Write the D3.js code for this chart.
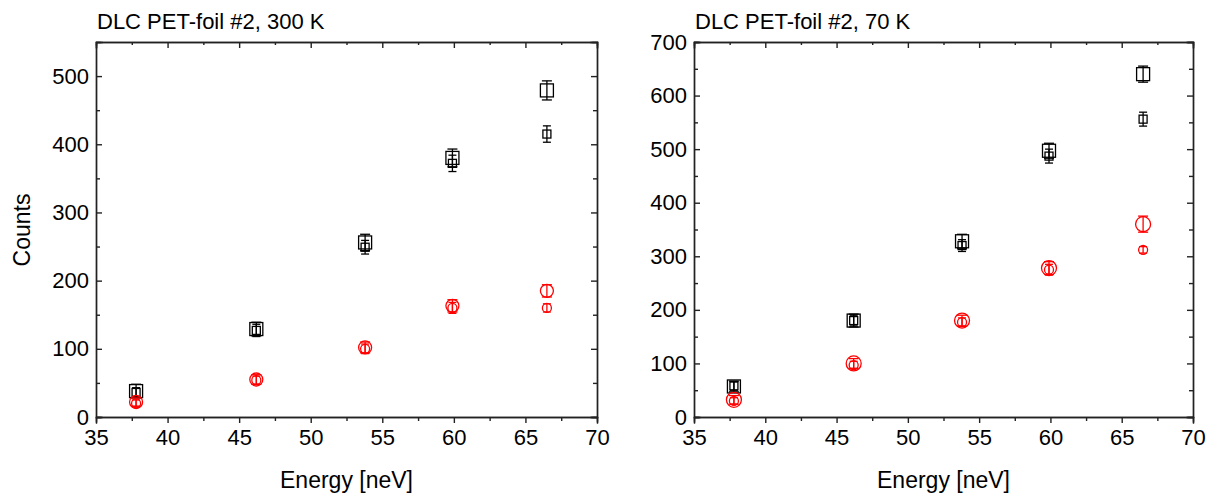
<!DOCTYPE html>
<html>
<head>
<meta charset="utf-8">
<script src="https://cdn.jsdelivr.net/npm/d3@7"></script>
<style>
  body { margin: 0; background: #fff; }
  svg { display: block; font-family: 'Liberation Sans', Arial, sans-serif; }
</style>
</head>
<body>
<div class="container"></div>
<script>
// energies of the five points (same for both panels)
const energy = [37.8, 46.2, 53.8, 59.9, 66.5];

// 300 K panel
const k300SqBig = [38, 129, 256, 380, 479];
const k300SqBigErr = [10, 10, 12, 13, 14];
const k300SqSmall = [36, 127, 249, 372, 415];
const k300SqSmallErr = [7, 9, 10, 12, 12];
const k300CiBig = [22, 55, 102, 163, 185];
const k300CiBigErr = [6, 7, 8, 9, 9];
const k300CiSmall = [20, 54, 100, 160, 160];
const k300CiSmallErr = [5, 6, 7, 8, 6];

// 70 K panel
const k70SqBig = [57, 180, 328, 497, 640];
const k70SqBigErr = [10, 12, 13, 14, 15];
const k70SqSmall = [58, 180, 320, 487, 556];
const k70SqSmallErr = [8, 10, 11, 13, 13];
const k70CiBig = [32, 100, 180, 278, 360];
const k70CiBigErr = [8, 9, 10, 12, 15];
const k70CiSmall = [30, 97, 177, 275, 312];
const k70CiSmallErr = [6, 7, 8, 10, 6];

const xTicks = [35, 40, 45, 50, 55, 60, 65, 70];
const yTicks300 = [0, 100, 200, 300, 400, 500];
const yTicks70 = [0, 100, 200, 300, 400, 500, 600, 700];

const W = 1211, H = 494;

const svg = d3.select('.container')
    .append('svg')
    .attr('width', W)
    .attr('height', H);

function panel(opts) {
    const x = d3.scaleLinear().domain([35, 70]).range([opts.left, opts.right]);
    const y = d3.scaleLinear().domain([0, opts.ymax]).range([417, 42]);
    const g = svg.append('g');

    // frame + ticks
    const ax = (gen, tr) => g.append('g').attr('transform', tr).call(gen)
        .call(s => s.select('.domain').attr('stroke', '#222').attr('stroke-width', 1.4))
        .call(s => s.selectAll('.tick line').attr('stroke', '#222').attr('stroke-width', 1.4))
        .call(s => s.selectAll('text').attr('fill', '#000').attr('font-size', 22)
            .attr('font-family', "'Liberation Sans', Arial, sans-serif"));

    const xMinor = d3.range(37.5, 70, 5);
    const yMinor = d3.range(50, opts.ymax, 100);

    // minor ticks first
    ax(d3.axisBottom(x).tickValues(xMinor).tickSize(4).tickFormat(''), 'translate(0,417)');
    ax(d3.axisTop(x).tickValues(xMinor).tickSize(-3).tickFormat(''), 'translate(0,42)');
    ax(d3.axisLeft(y).tickValues(yMinor).tickSize(-4).tickFormat(''), `translate(${opts.left},0)`);
    ax(d3.axisRight(y).tickValues(yMinor).tickSize(-4).tickFormat(''), `translate(${opts.right},0)`);

    ax(d3.axisBottom(x).tickValues(xTicks).tickSize(6).tickPadding(6).tickFormat(d3.format('d')), 'translate(0,417)');
    ax(d3.axisTop(x).tickValues(xTicks).tickSize(-6).tickFormat(''), 'translate(0,42)');
    ax(d3.axisLeft(y).tickValues(opts.yTicks).tickSize(-6).tickPadding(7).tickFormat(d3.format('d')), `translate(${opts.left},0)`)
        .selectAll('.tick text').attr('x', -7);
    ax(d3.axisRight(y).tickValues(opts.yTicks).tickSize(-6).tickFormat(''), `translate(${opts.right},0)`);

    g.selectAll('.domain').attr('stroke-linecap', 'square');

    // title
    g.append('text')
        .attr('x', opts.left + 1)
        .attr('y', 29)
        .attr('font-size', 22)
        .text(opts.title);

    g.append('text')
        .attr('x', (opts.left + opts.right) / 2)
        .attr('y', 488)
        .attr('text-anchor', 'middle')
        .attr('font-size', 23)
        .text('Energy [neV]');

    if (opts.ylabel) {
        g.append('text')
            .attr('transform', `translate(${opts.left - 66},230) rotate(-90)`)
            .attr('text-anchor', 'middle')
            .attr('font-size', 23)
            .text(opts.ylabel);
    }

    // data series
    opts.series.forEach(s => {
        const pts = energy.map((e, i) => ({e: e, v: s.vals[i], err: s.errs[i]}));
        const sg = g.append('g')
            .attr('stroke', s.color)
            .attr('fill', 'none')
            .attr('stroke-width', 1.3);
        const cap = s.cap;

        sg.selectAll('line.bar').data(pts).join('line')
            .attr('x1', d => x(d.e)).attr('x2', d => x(d.e))
            .attr('y1', d => y(d.v - d.err)).attr('y2', d => y(d.v + d.err));
        sg.selectAll('line.top').data(pts).join('line')
            .attr('x1', d => x(d.e) - cap).attr('x2', d => x(d.e) + cap)
            .attr('y1', d => y(d.v + d.err)).attr('y2', d => y(d.v + d.err));
        sg.selectAll('line.bot').data(pts).join('line')
            .attr('x1', d => x(d.e) - cap).attr('x2', d => x(d.e) + cap)
            .attr('y1', d => y(d.v - d.err)).attr('y2', d => y(d.v - d.err));

        if (s.shape === 'square') {
            sg.selectAll('rect').data(pts).join('rect')
                .attr('x', d => x(d.e) - s.size / 2)
                .attr('y', d => y(d.v) - s.size / 2)
                .attr('width', s.size)
                .attr('height', s.size);
        } else {
            sg.selectAll('circle').data(pts).join('circle')
                .attr('cx', d => x(d.e))
                .attr('cy', d => y(d.v))
                .attr('r', s.size / 2);
        }
    });
}

panel({
    left: 96, right: 597, ymax: 550, yTicks: yTicks300,
    title: 'DLC PET-foil #2, 300 K', ylabel: 'Counts',
    series: [
        {vals: k300SqBig, errs: k300SqBigErr, shape: 'square', size: 13, cap: 5, color: '#000'},
        {vals: k300SqSmall, errs: k300SqSmallErr, shape: 'square', size: 8, cap: 4, color: '#000'},
        {vals: k300CiBig, errs: k300CiBigErr, shape: 'circle', size: 13, cap: 5, color: '#ff0000'},
        {vals: k300CiSmall, errs: k300CiSmallErr, shape: 'circle', size: 9, cap: 4, color: '#ff0000'}
    ]
});

panel({
    left: 694, right: 1193, ymax: 700, yTicks: yTicks70,
    title: 'DLC PET-foil #2, 70 K', ylabel: null,
    series: [
        {vals: k70SqBig, errs: k70SqBigErr, shape: 'square', size: 13, cap: 5, color: '#000'},
        {vals: k70SqSmall, errs: k70SqSmallErr, shape: 'square', size: 8, cap: 4, color: '#000'},
        {vals: k70CiBig, errs: k70CiBigErr, shape: 'circle', size: 15, cap: 5, color: '#ff0000'},
        {vals: k70CiSmall, errs: k70CiSmallErr, shape: 'circle', size: 9, cap: 4, color: '#ff0000'}
    ]
});
</script>
</body>
</html>
